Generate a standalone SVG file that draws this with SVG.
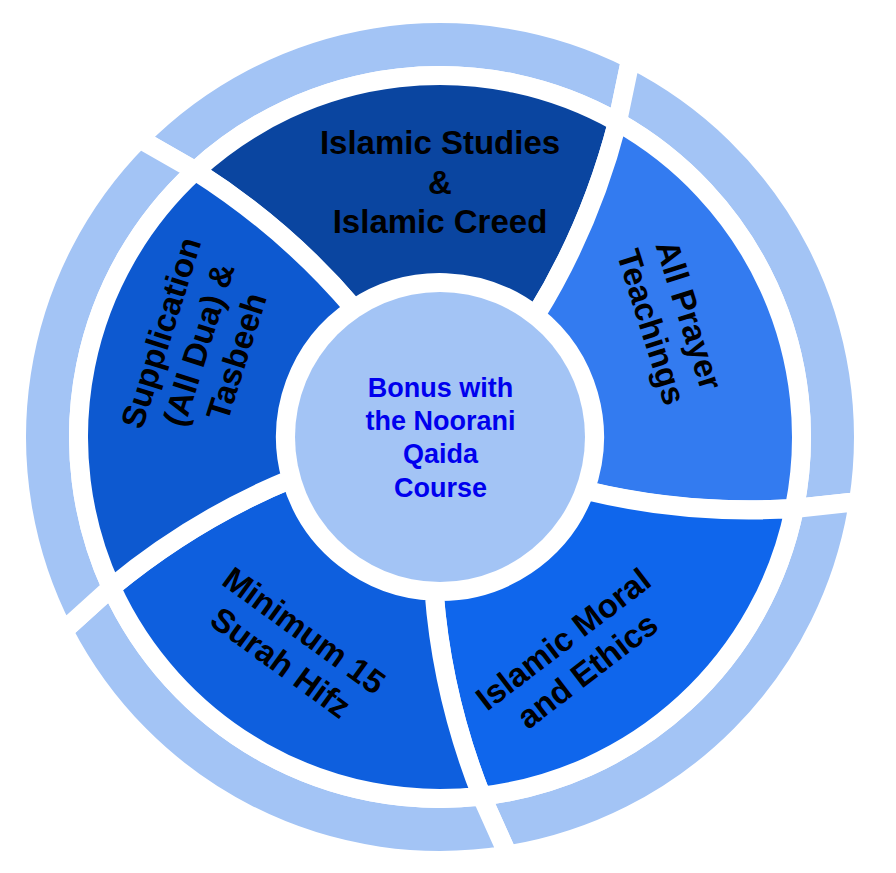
<svg xmlns="http://www.w3.org/2000/svg" xmlns:xlink="http://www.w3.org/1999/xlink" width="896" height="873" viewBox="0 0 896 873">
  <style>
    .shape { stroke: #FFFFFF; stroke-width: 19; stroke-linejoin: miter; }
    .ring { fill: #A3C4F5; }
    .lbl { font-family: "Liberation Sans", Arial, Helvetica, sans-serif; font-weight: bold; font-size: 33px; fill: #000000; text-anchor: middle; }
    .ctr { font-family: "Liberation Sans", Arial, Helvetica, sans-serif; font-weight: bold; font-size: 27px; fill: #0000EE; text-anchor: middle; }
  </style>
  <defs>
    <path id="seg" d="M 195.3 170.9 A 361.5 361.5 0 0 1 617.5 122.1 Q 590.5 226.35 535.5 315.6 A 154.5 154.5 0 0 0 354.1 308.6 Q 286.3 228.65 195.3 170.9 Z"/>
    <path id="arc" d="M 139.3 138.8 A 423.5 423.5 0 0 1 630.7 58.9 L 617.5 122.1 A 361.5 361.5 0 0 0 195.3 170.9 Z"/>
  </defs>
  <rect width="896" height="873" fill="#FFFFFF"/>

  <g id="outer-ring">
    <use xlink:href="#arc" class="shape ring"/>
    <use xlink:href="#arc" class="shape ring" transform="rotate(72 440 437)"/>
    <use xlink:href="#arc" class="shape ring" transform="rotate(144 440 437)"/>
    <use xlink:href="#arc" class="shape ring" transform="rotate(216 440 437)"/>
    <use xlink:href="#arc" class="shape ring" transform="rotate(288 440 437)"/>
  </g>

  <g id="seg-islamic-studies">
    <use xlink:href="#seg" class="shape" fill="#0A45A0"/>
  </g>
  <g id="seg-all-prayer">
    <use xlink:href="#seg" class="shape" fill="#337BF0" transform="rotate(72 440 437)"/>
  </g>
  <g id="seg-islamic-moral">
    <use xlink:href="#seg" class="shape" fill="#0F66EC" transform="rotate(144 440 437)"/>
  </g>
  <g id="seg-minimum-15">
    <use xlink:href="#seg" class="shape" fill="#0E5FDE" transform="rotate(216 440 437)"/>
  </g>
  <g id="seg-supplication">
    <use xlink:href="#seg" class="shape" fill="#0D59D0" transform="rotate(288 440 437)"/>
  </g>

  <g id="center">
    <circle cx="440" cy="437" r="145" fill="#A3C4F5"/>
    <text class="ctr" x="440.5" y="396.7">Bonus with</text>
    <text class="ctr" x="440.5" y="430">the Noorani</text>
    <text class="ctr" x="440.5" y="463.3">Qaida</text>
    <text class="ctr" x="440.5" y="496.6">Course</text>
  </g>

  <g id="labels">
    <g transform="translate(440 183.5)">
      <text class="lbl" y="-29.5">Islamic Studies</text>
      <text class="lbl" y="10">&amp;</text>
      <text class="lbl" y="49.5">Islamic Creed</text>
    </g>
    <g transform="translate(669 321.4) rotate(72.5)">
      <text class="lbl" y="-9.75">All Prayer</text>
      <text class="lbl" y="29.75">Teachings</text>
    </g>
    <g transform="translate(576.1 655.9) rotate(-37.4)">
      <text class="lbl" y="-9.75">Islamic Moral</text>
      <text class="lbl" y="29.75">and Ethics</text>
    </g>
    <g transform="translate(291.6 647.6) rotate(36)">
      <text class="lbl" y="-9.75">Minimum 15</text>
      <text class="lbl" y="29.75">Surah Hifz</text>
    </g>
    <g transform="translate(200 345) rotate(-72.5)">
      <text class="lbl" y="-29.5">Supplication</text>
      <text class="lbl" y="10">(All Dua) &amp;</text>
      <text class="lbl" y="49.5">Tasbeeh</text>
    </g>
  </g>
</svg>
